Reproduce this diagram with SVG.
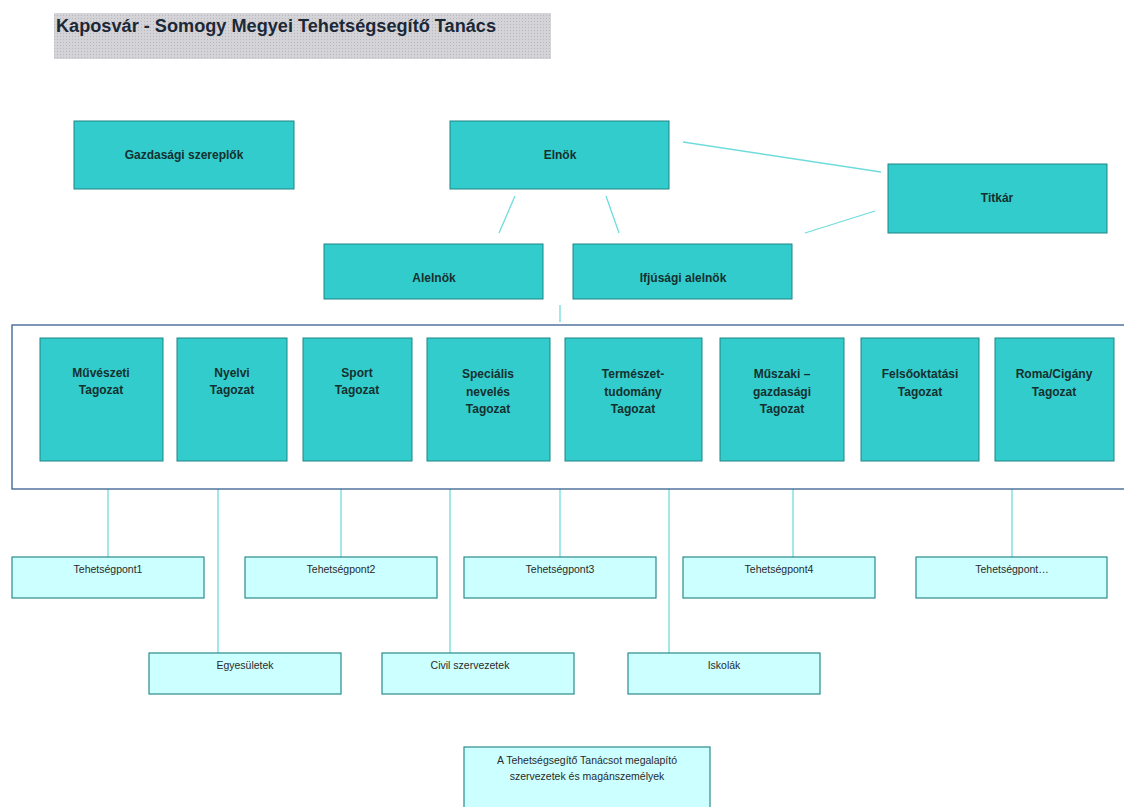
<svg xmlns="http://www.w3.org/2000/svg" width="1124" height="807" viewBox="0 0 1124 807">
<style>
.n{fill:#33cccc;stroke:#1f8585;stroke-width:1}
.s{fill:#ccffff;stroke:#2a8a8a;stroke-width:1.2}
.t{font-family:"Liberation Sans",Arial,sans-serif;font-size:12px;font-weight:bold;fill:#14302f;text-anchor:middle}
.st{font-family:"Liberation Sans",Arial,sans-serif;font-size:10.5px;fill:#2a2a2a;text-anchor:middle}
.c{stroke:#6fdcdc;stroke-width:1.3;fill:none}
</style>
<defs>
<pattern id="dots" width="3" height="3" patternUnits="userSpaceOnUse">
<rect width="3" height="3" fill="#d4d4d8"/>
<rect width="1" height="1" fill="#b8b8bc"/>
</pattern>
</defs>
<rect width="1124" height="807" fill="#ffffff"/>
<g id="title">
<rect x="54" y="13" width="497" height="46" fill="url(#dots)"/>
<text x="56" y="32" font-family="'Liberation Sans',Arial,sans-serif" font-size="18" font-weight="bold" fill="#1c2836" textLength="440" lengthAdjust="spacingAndGlyphs">Kaposvár - Somogy Megyei Tehetségsegítő Tanács</text>
</g>
<g id="connectors">
<line class="c" x1="683" y1="142" x2="881" y2="172"/>
<line class="c" x1="875" y1="211" x2="805" y2="233"/>
<line class="c" x1="515" y1="196" x2="499" y2="233"/>
<line class="c" x1="606" y1="196" x2="619" y2="233"/>
<line class="c" x1="560" y1="305" x2="560" y2="322"/>
<line class="c" x1="108" y1="489" x2="108" y2="557"/>
<line class="c" x1="218" y1="489" x2="218" y2="653"/>
<line class="c" x1="341" y1="489" x2="341" y2="557"/>
<line class="c" x1="450" y1="489" x2="450" y2="653"/>
<line class="c" x1="560" y1="489" x2="560" y2="557"/>
<line class="c" x1="669" y1="489" x2="669" y2="653"/>
<line class="c" x1="793" y1="489" x2="793" y2="557"/>
<line class="c" x1="1012" y1="489" x2="1012" y2="557"/>
</g>
<g id="container">
<rect x="12" y="325" width="1120" height="164" fill="none" stroke="#3a5f8f" stroke-width="1.3"/>
</g>
<g id="gazdasagi">
<rect class="n" x="74" y="121" width="220" height="68"/>
<text class="t" x="184" y="159">Gazdasági  szereplők</text>
</g>
<g id="elnok">
<rect class="n" x="450" y="121" width="219" height="68"/>
<text class="t" x="560" y="159">Elnök</text>
</g>
<g id="titkar">
<rect class="n" x="888" y="164" width="219" height="69"/>
<text class="t" x="997" y="202">Titkár</text>
</g>
<g id="alelnok">
<rect class="n" x="324" y="244" width="219" height="55"/>
<text class="t" x="434" y="282">Alelnök</text>
</g>
<g id="ifjusagi">
<rect class="n" x="573" y="244" width="219" height="55"/>
<text class="t" x="683" y="282">Ifjúsági alelnök</text>
</g>
<g id="t1">
<rect class="n" x="40" y="338" width="123" height="123"/>
<text class="t" x="101" y="377">Művészeti</text>
<text class="t" x="101" y="394">Tagozat</text>
</g>
<g id="t2">
<rect class="n" x="177" y="338" width="110" height="123"/>
<text class="t" x="232" y="377">Nyelvi</text>
<text class="t" x="232" y="394">Tagozat</text>
</g>
<g id="t3">
<rect class="n" x="303" y="338" width="109" height="123"/>
<text class="t" x="357" y="377">Sport</text>
<text class="t" x="357" y="394">Tagozat</text>
</g>
<g id="t4">
<rect class="n" x="427" y="338" width="123" height="123"/>
<text class="t" x="488" y="378">Speciális</text>
<text class="t" x="488" y="396">nevelés</text>
<text class="t" x="488" y="413">Tagozat</text>
</g>
<g id="t5">
<rect class="n" x="565" y="338" width="137" height="123"/>
<text class="t" x="633" y="378">Természet-</text>
<text class="t" x="633" y="396">tudomány</text>
<text class="t" x="633" y="413">Tagozat</text>
</g>
<g id="t6">
<rect class="n" x="720" y="338" width="124" height="123"/>
<text class="t" x="782" y="378">Műszaki  –</text>
<text class="t" x="782" y="396">gazdasági</text>
<text class="t" x="782" y="413">Tagozat</text>
</g>
<g id="t7">
<rect class="n" x="861" y="338" width="118" height="123"/>
<text class="t" x="920" y="378">Felsőoktatási</text>
<text class="t" x="920" y="396">Tagozat</text>
</g>
<g id="t8">
<rect class="n" x="995" y="338" width="119" height="123"/>
<text class="t" x="1054" y="378">Roma/Cigány</text>
<text class="t" x="1054" y="396">Tagozat</text>
</g>
<g id="tp1">
<rect class="s" x="12" y="557" width="192" height="41"/>
<text class="st" x="108" y="573">Tehetségpont1</text>
</g>
<g id="tp2">
<rect class="s" x="245" y="557" width="192" height="41"/>
<text class="st" x="341" y="573">Tehetségpont2</text>
</g>
<g id="tp3">
<rect class="s" x="464" y="557" width="192" height="41"/>
<text class="st" x="560" y="573">Tehetségpont3</text>
</g>
<g id="tp4">
<rect class="s" x="683" y="557" width="192" height="41"/>
<text class="st" x="779" y="573">Tehetségpont4</text>
</g>
<g id="tp5">
<rect class="s" x="916" y="557" width="191" height="41"/>
<text class="st" x="1012" y="573">Tehetségpont…</text>
</g>
<g id="egyesuletek">
<rect class="s" x="149" y="653" width="192" height="41"/>
<text class="st" x="245" y="669">Egyesületek</text>
</g>
<g id="civil">
<rect class="s" x="382" y="653" width="192" height="41"/>
<text class="st" x="470" y="669">Civil szervezetek</text>
</g>
<g id="iskolak">
<rect class="s" x="628" y="653" width="192" height="41"/>
<text class="st" x="724" y="669">Iskolák</text>
</g>
<g id="alapito">
<rect class="s" x="464" y="747" width="246" height="64"/>
<text class="st" x="587" y="764">A Tehetségsegítő Tanácsot megalapító</text>
<text class="st" x="587" y="780">szervezetek és magánszemélyek</text>
</g>
</svg>
